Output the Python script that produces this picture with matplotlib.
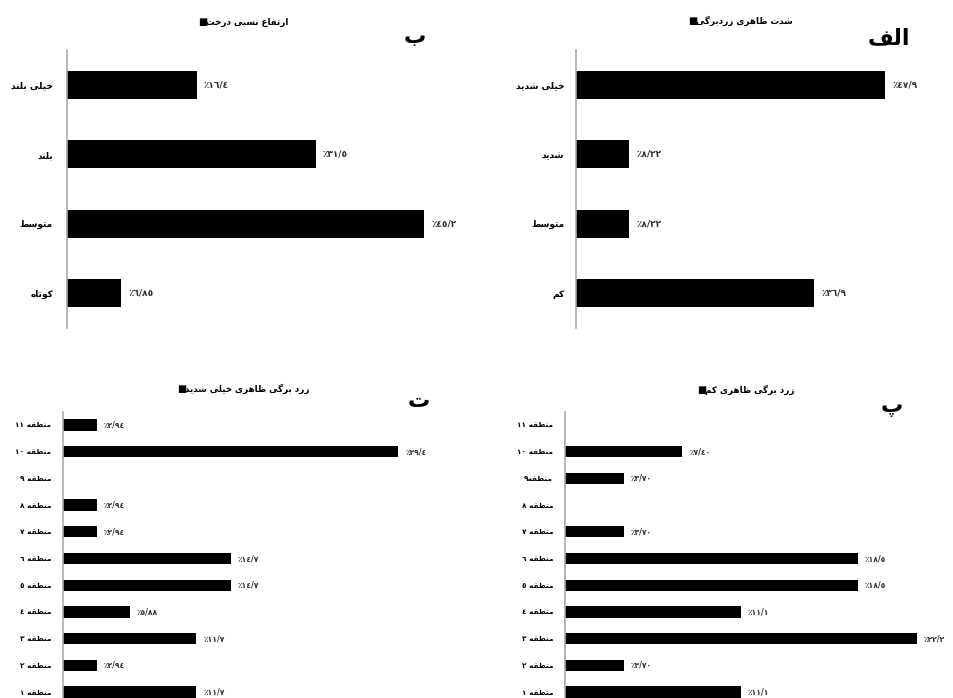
import matplotlib
matplotlib.use("Agg")
import matplotlib.pyplot as plt

# ---- data ----
height_cats = ["خیلی بلند", "بلند", "متوسط", "کوتاه"]
height_vals = [16.4, 31.5, 45.2, 6.85]
height_labels = ["٪١٦/٤", "٪٣١/٥", "٪٤٥/٢", "٪٦/٨٥"]

sev_cats = ["خیلی شدید", "شدید", "متوسط", "کم"]
sev_vals = [47.9, 8.22, 8.22, 36.9]
sev_labels = ["٪٤٧/٩", "٪٨/٢٢", "٪٨/٢٢", "٪٣٦/٩"]

regions = ["منطقه ١١", "منطقه ١٠", "منطقه ٩", "منطقه ٨", "منطقه ٧", "منطقه ٦",
           "منطقه ٥", "منطقه ٤", "منطقه ٣", "منطقه ٢", "منطقه ١"]
regions_low = ["منطقه ١١", "منطقه ١٠", "منطقه٩", "منطقه ٨", "منطقه ٧", "منطقه ٦",
               "منطقه ٥", "منطقه ٤", "منطقه ٣", "منطقه ٢", "منطقه ١"]

vsev_vals = [2.94, 29.4, 0, 2.94, 2.94, 14.7, 14.7, 5.88, 11.7, 2.94, 11.7]
vsev_labels = ["٪٢/٩٤", "٪٢٩/٤", "", "٪٢/٩٤", "٪٢/٩٤", "٪١٤/٧", "٪١٤/٧",
               "٪٥/٨٨", "٪١١/٧", "٪٢/٩٤", "٪١١/٧"]

low_vals = [0, 7.40, 3.70, 0, 3.70, 18.5, 18.5, 11.1, 22.2, 3.70, 11.1]
low_labels = ["", "٪٧/٤٠", "٪٣/٧٠", "", "٪٣/٧٠", "٪١٨/٥", "٪١٨/٥",
              "٪١١/١", "٪٢٢/٢", "٪٣/٧٠", "٪١١/١"]

titles = ["ارتفاع نسبی درخت", "شدت ظاهری زردبرگی",
          "زرد برگی ظاهری خیلی شدید", "زرد برگی ظاهری کم"]
letters = ["ب", "الف", "ت", "پ"]

# ---- tiny arabic/persian shaper (matplotlib has no text shaping) ----
# char: (isolated, final, initial, medial); right-joining letters have no initial/medial
FORMS = {
    "ا": (0xFE8D, 0xFE8E, None, None),
    "ب": (0xFE8F, 0xFE90, 0xFE91, 0xFE92),
    "پ": (0xFB56, 0xFB57, 0xFB58, 0xFB59),
    "ت": (0xFE95, 0xFE96, 0xFE97, 0xFE98),
    "خ": (0xFEA5, 0xFEA6, 0xFEA7, 0xFEA8),
    "د": (0xFEA9, 0xFEAA, None, None),
    "ر": (0xFEAD, 0xFEAE, None, None),
    "ز": (0xFEAF, 0xFEB0, None, None),
    "س": (0xFEB1, 0xFEB2, 0xFEB3, 0xFEB4),
    "ش": (0xFEB5, 0xFEB6, 0xFEB7, 0xFEB8),
    "ط": (0xFEC1, 0xFEC2, 0xFEC3, 0xFEC4),
    "ظ": (0xFEC5, 0xFEC6, 0xFEC7, 0xFEC8),
    "ع": (0xFEC9, 0xFECA, 0xFECB, 0xFECC),
    "ف": (0xFED1, 0xFED2, 0xFED3, 0xFED4),
    "ق": (0xFED5, 0xFED6, 0xFED7, 0xFED8),
    "ک": (0xFB8E, 0xFB8F, 0xFB90, 0xFB91),
    "گ": (0xFB92, 0xFB93, 0xFB94, 0xFB95),
    "ل": (0xFEDD, 0xFEDE, 0xFEDF, 0xFEE0),
    "م": (0xFEE1, 0xFEE2, 0xFEE3, 0xFEE4),
    "ن": (0xFEE5, 0xFEE6, 0xFEE7, 0xFEE8),
    "ه": (0xFEE9, 0xFEEA, 0xFEEB, 0xFEEC),
    "و": (0xFEED, 0xFEEE, None, None),
    "ی": (0xFBFC, 0xFBFD, 0xFBFE, 0xFBFF),
}
DIGITS = set("0123456789٠١٢٣٤٥٦٧٨٩۰۱۲۳۴۵۶۷۸۹")


def fa(s):
    out = []
    for i, c in enumerate(s):
        if c not in FORMS:
            out.append(c)
            continue
        prev = s[i - 1] if i > 0 else ""
        nxt = s[i + 1] if i + 1 < len(s) else ""
        join_prev = prev in FORMS and FORMS[prev][2] is not None
        join_next = nxt in FORMS and FORMS[c][2] is not None
        f = FORMS[c]
        if join_prev and join_next:
            code = f[3]
        elif join_prev:
            code = f[1]
        elif join_next:
            code = f[2]
        else:
            code = f[0]
        out.append(chr(code))
    # visual order: reverse, but keep digit runs left-to-right
    tokens = []
    for c in out:
        if c in DIGITS and tokens and tokens[-1][-1] in DIGITS:
            tokens[-1] += c
        else:
            tokens.append(c)
    return "".join(reversed(tokens))


W, H = 954, 698
fig = plt.figure(figsize=(W / 100, H / 100), dpi=100)
plt.rcParams["font.family"] = ["DejaVu Sans"]


def box(x0, y_top, w, h):
    return [x0 / W, 1 - (y_top + h) / H, w / W, h / H]


def panel(rect, cats, vals, labels, xmax, bar_h, cat_fs, val_fs, pad):
    ax = fig.add_axes(rect)
    n = len(cats)
    ys = list(range(n))
    ax.barh(ys, vals, height=bar_h, color="black")
    for y, v, lab in zip(ys, vals, labels):
        if v > 0 and lab:
            ax.annotate(lab, (v, y), xytext=(5, 0), textcoords="offset points",
                        va="center", ha="left", fontsize=val_fs,
                        fontweight="bold", color="#333333")
    ax.set_xlim(0, xmax)
    ax.set_ylim(n - 0.5, -0.5)
    ax.set_yticks(ys)
    ax.set_yticklabels([fa(c) for c in cats], fontsize=cat_fs, fontweight="bold")
    ax.tick_params(axis="y", length=0, pad=pad)
    ax.set_xticks([])
    for side in ["top", "right", "bottom"]:
        ax.spines[side].set_visible(False)
    ax.spines["left"].set_color("#aaaaaa")
    ax.spines["left"].set_linewidth(1.2)
    return ax


panel(box(67, 50, 395, 278), height_cats, height_vals, height_labels,
      50, 0.41, 6.5, 6.5, 10)
panel(box(576, 50, 355, 278), sev_cats, sev_vals, sev_labels,
      55, 0.41, 6.5, 6.5, 8.5)
panel(box(63, 411.6, 365, 293.8), regions, vsev_vals, vsev_labels,
      32, 0.42, 5.3, 5.5, 8.5)
panel(box(565, 411.6, 380, 293.8), regions_low, low_vals, low_labels,
      24, 0.42, 5.3, 5.5, 8.5)

# legend-like titles: black square + text
legend_pos = [(198, 22), (688, 21), (177, 389), (697, 390)]
for (x, y), t in zip(legend_pos, titles):
    fig.text(x / W, 1 - y / H, "■", fontsize=7, va="center", ha="left")
    fig.text((x + 8) / W, 1 - y / H, fa(t), fontsize=6.3, fontweight="bold",
             va="center", ha="left")

# panel letters
letter_pos = [(415, 37), (889, 38), (419, 401), (892, 407)]
for (x, y), t in zip(letter_pos, letters):
    fig.text(x / W, 1 - y / H, fa(t), fontsize=16, fontweight="bold",
             va="center", ha="center")

fig.savefig("out.png", dpi=100)
